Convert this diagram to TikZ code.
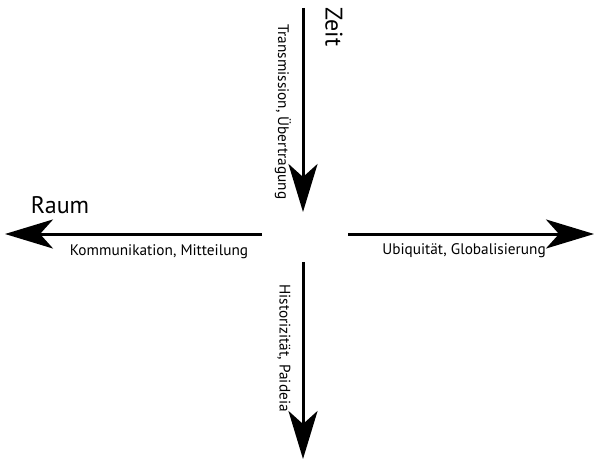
\documentclass[tikz,border=0pt]{standalone}
\usepackage{fontspec}
\setmainfont{PT Sans}
\usetikzlibrary{arrows.meta}

\begin{document}
\begin{tikzpicture}[x=1pt,y=-1pt,
  axis/.style={line width=3pt,-{Stealth[length=48pt,width=29pt,inset=13pt]}},
  small/.style={font=\fontsize{15.3}{17}\selectfont},
  big/.style={font=\fontsize{24}{26}\selectfont}]
\useasboundingbox (0,0) rectangle (596,462);
\coordinate (top) at (303,8);
\coordinate (zeitend) at (303,212);
\coordinate (left) at (262,234);
\coordinate (raumend) at (5,234);
\coordinate (right) at (348,234);
\coordinate (ubiend) at (594,234);
\coordinate (bottom) at (303,262);
\coordinate (histend) at (303,459);
\draw[axis] (top) -- (zeitend);
\draw[axis] (left) -- (raumend);
\draw[axis] (right) -- (ubiend);
\draw[axis] (bottom) -- (histend);
\node[big,rotate=-90] (zeit) at (334,27) {Zeit};
\node[big] (raum) at (60,205) {Raum};
\node[small,rotate=-90] (trans) at (283,112) {Transmission, Übertragung};
\node[small] (komm) at (159,252) {Kommunikation, Mitteilung};
\node[small] (ubi) at (464,251) {Ubiquität, Globalisierung};
\node[small,rotate=-90] (hist) at (284,348) {Historizität, Paideia};
\end{tikzpicture}
\end{document}
